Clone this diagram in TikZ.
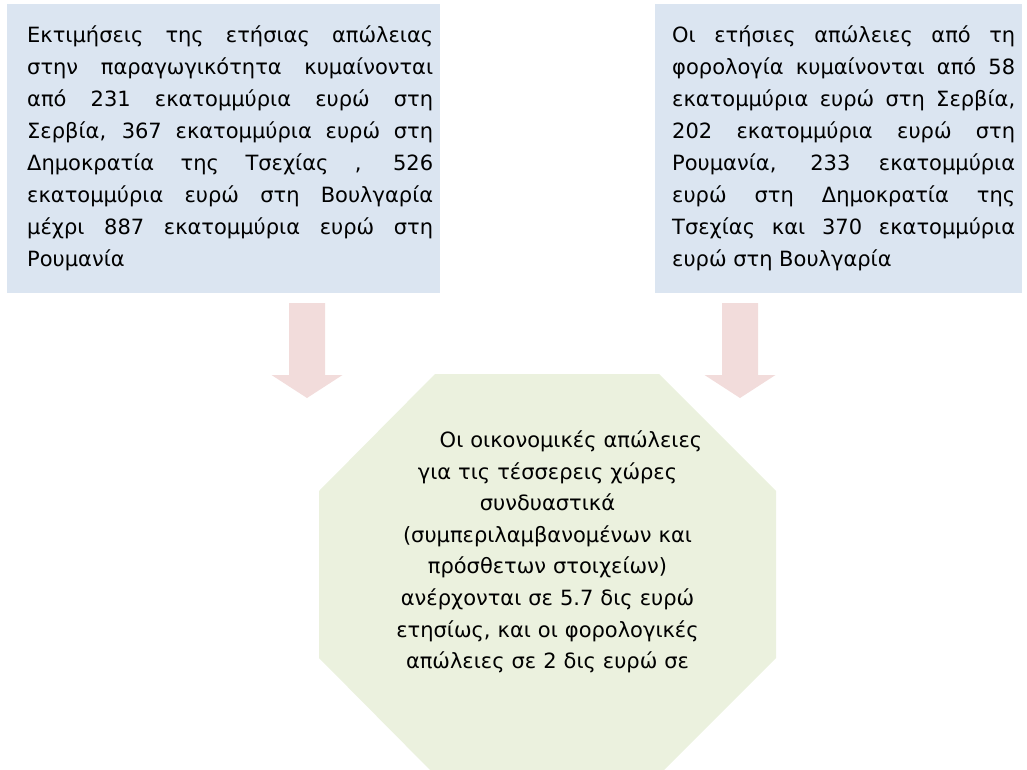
\documentclass[tikz,border=0pt]{standalone}
\usepackage{fontspec}
\setmainfont{DejaVu Sans}
\usetikzlibrary{calc}
\definecolor{boxblue}{HTML}{DBE5F1}
\definecolor{arrowpink}{HTML}{F2DCDB}
\definecolor{boxgreen}{HTML}{EBF1DE}
\tikzset{
    infobox/.style={fill=boxblue,anchor=north west,inner xsep=7pt,inner ysep=0pt,minimum height=289pt,font=\fontsize{21}{32}\selectfont},
    summary/.style={text width=340pt,align=center,font=\fontsize{21}{31.6}\selectfont},
    blockarrow/.style={fill=arrowpink}
}
\begin{document}
\begin{tikzpicture}[x=1pt,y=-1pt]
\useasboundingbox(0,0)rectangle(1027,770);
\node[infobox](prod) at (7,4){\hspace*{13pt}\parbox{406pt}{Εκτιμήσεις της ετήσιας απώλειας\linebreak
στην παραγωγικότητα κυμαίνονται\linebreak
από 231 εκατομμύρια ευρώ στη\linebreak
Σερβία, 367 εκατομμύρια ευρώ στη\linebreak
Δημοκρατία της Τσεχίας , 526\linebreak
εκατομμύρια ευρώ στη Βουλγαρία\linebreak
μέχρι 887 εκατομμύρια ευρώ στη\linebreak
Ρουμανία}};
\node[infobox](tax) at (655,4){\hspace*{10pt}\parbox{343pt}{Οι ετήσιες απώλειες από τη\linebreak
φορολογία κυμαίνονται από 58\linebreak
εκατομμύρια ευρώ στη Σερβία,\linebreak
202 εκατομμύρια ευρώ στη\linebreak
Ρουμανία, 233 εκατομμύρια\linebreak
ευρώ στη Δημοκρατία της\linebreak
Τσεχίας και 370 εκατομμύρια\linebreak
ευρώ στη Βουλγαρία}};

\fill[boxgreen](435,374)--(659,374)--(776,491)--(776,658)--(659,775)--(435,775)--(319,658)--(319,491)--cycle;
\node[summary](loss) at (547.5,552){\hspace*{47pt}Οι οικονομικές απώλειες\\
για τις τέσσερεις χώρες\\
συνδυαστικά\\
(συμπεριλαμβανομένων και\\
πρόσθετων στοιχείων)\\
ανέρχονται σε 5.7 δις ευρώ\\
ετησίως, και οι φορολογικές\\
απώλειες σε 2 δις ευρώ σε};

\foreach \x in {307,740}
    \fill[blockarrow](\x-18,303)--(\x+18,303)--(\x+18,375)--(\x+35.5,375)--(\x,398)--(\x-35.5,375)--(\x-18,375)--cycle;
\end{tikzpicture}
\end{document}
